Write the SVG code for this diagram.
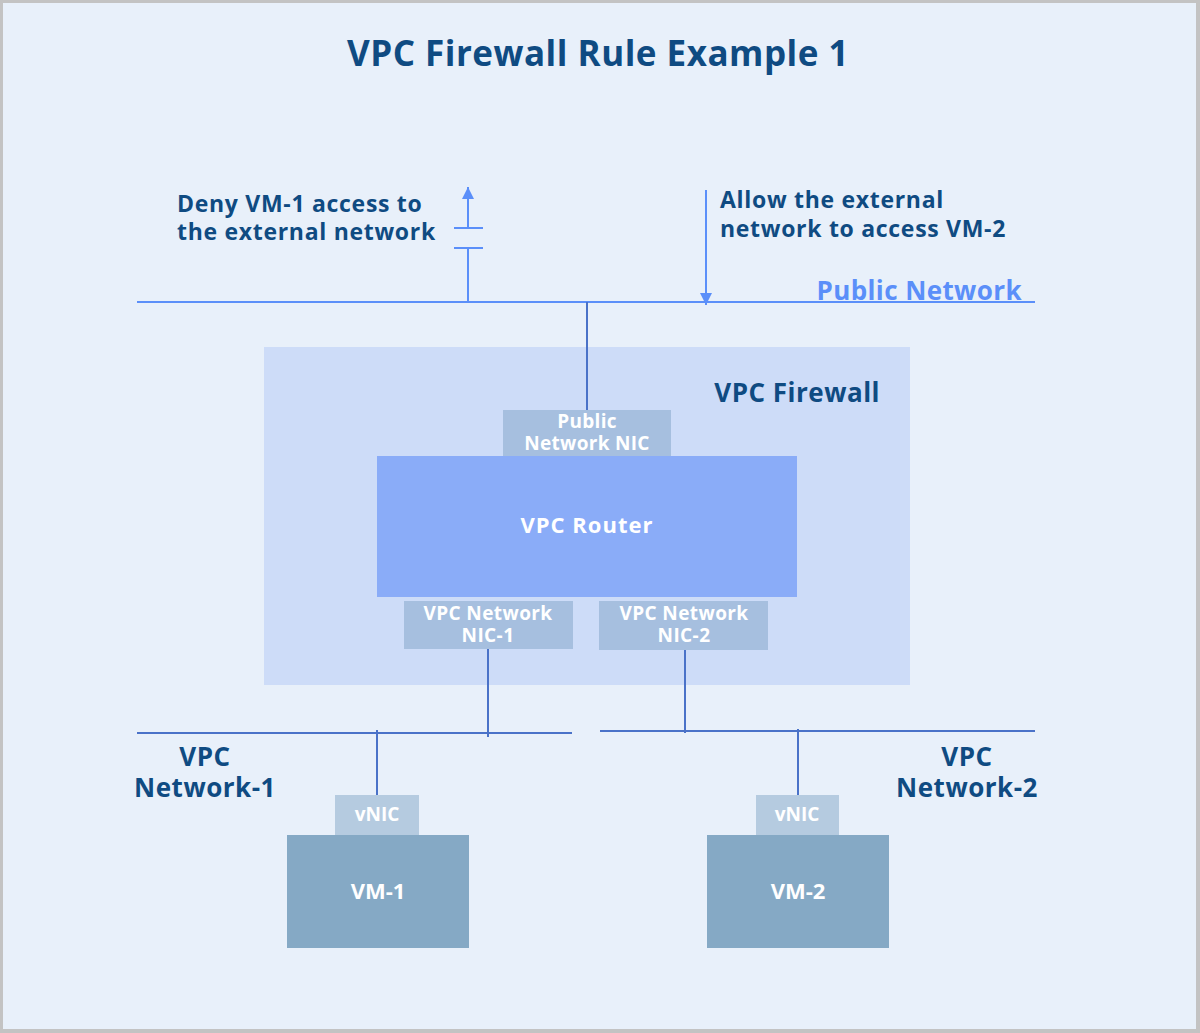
<svg xmlns="http://www.w3.org/2000/svg" width="1200" height="1033" viewBox="0 0 1200 1033">
<defs>
<style>
.t{font-family:"Open Sans","Noto Sans","Liberation Sans",sans-serif;font-weight:700}
.dk{fill:#0f4b82}
.wh{fill:#ffffff}
.pl{stroke:#5b8ff9;stroke-width:2;fill:none}
.vl{stroke:#4a72c8;stroke-width:2;fill:none}
</style>
<marker id="ah" markerWidth="12" markerHeight="12" refX="10" refY="5" orient="auto" markerUnits="userSpaceOnUse" viewBox="0 0 10 10">
<path d="M0,0 L10,5 L0,10 Z" fill="#5b8ff9"/>
</marker>
</defs>
<rect x="0" y="0" width="1200" height="1033" fill="#c3c3c3"/>
<rect x="3" y="3" width="1193" height="1026" fill="#e8f0fa"/>
<text class="t dk" x="598" y="66" font-size="35" letter-spacing="0.5" text-anchor="middle">VPC Firewall Rule Example 1</text>

<g id="firewall">
<rect x="264" y="347" width="646" height="338" fill="#cddcf8"/>
<text class="t dk" x="880" y="402" font-size="26" letter-spacing="0.5" text-anchor="end">VPC Firewall</text>
</g>

<g id="connectors">
<line class="pl" x1="137" y1="302" x2="1035" y2="302"/>
<line class="pl" x1="468" y1="302" x2="468" y2="249"/>
<line class="pl" x1="468" y1="228" x2="468" y2="187" marker-end="url(#ah)"/>
<line class="pl" x1="454" y1="228" x2="483" y2="228"/>
<line class="pl" x1="454" y1="248" x2="483" y2="248"/>
<line class="pl" x1="706" y1="190" x2="706" y2="305" marker-end="url(#ah)"/>
<line class="vl" x1="587" y1="302" x2="587" y2="414"/>
<line class="vl" x1="488" y1="648" x2="488" y2="737"/>
<line class="vl" x1="137" y1="733" x2="572" y2="733"/>
<line class="vl" x1="685" y1="646" x2="685" y2="733"/>
<line class="vl" x1="600" y1="731" x2="1035" y2="731"/>
<line class="vl" x1="377" y1="730" x2="377" y2="795"/>
<line class="vl" x1="798" y1="729" x2="798" y2="795"/>
</g>

<g id="deny-label">
<text class="t dk" font-size="23" letter-spacing="0.7"><tspan x="177" y="212">Deny VM-1 access to</tspan><tspan x="177" y="240">the external network</tspan></text>
</g>
<g id="allow-label">
<text class="t dk" font-size="23" letter-spacing="0.7"><tspan x="720" y="208">Allow the external</tspan><tspan x="720" y="237">network to access VM-2</tspan></text>
</g>
<g id="public-network">
<text class="t" x="1022" y="300" font-size="26" letter-spacing="0.4" text-anchor="end" fill="#5b8ff9">Public Network</text>
</g>

<g id="public-nic">
<rect x="503" y="410" width="168" height="46" fill="#a6bfdf"/>
<text class="t wh" font-size="19" letter-spacing="0.3" text-anchor="middle"><tspan x="587" y="428">Public</tspan><tspan x="587" y="450">Network NIC</tspan></text>
</g>
<g id="router">
<rect x="377" y="456" width="420" height="141" fill="#8aacf8"/>
<text class="t wh" x="587" y="533" font-size="22" letter-spacing="1" text-anchor="middle">VPC Router</text>
</g>
<g id="nic1">
<rect x="404" y="601" width="169" height="48" fill="#a6bfdf"/>
<text class="t wh" font-size="19" letter-spacing="0.4" text-anchor="middle"><tspan x="488" y="620">VPC Network</tspan><tspan x="488" y="642">NIC-1</tspan></text>
</g>
<g id="nic2">
<rect x="599" y="601" width="169" height="49" fill="#a6bfdf"/>
<text class="t wh" font-size="19" letter-spacing="0.4" text-anchor="middle"><tspan x="684" y="620">VPC Network</tspan><tspan x="684" y="642">NIC-2</tspan></text>
</g>

<g id="net1">
<text class="t dk" font-size="26" letter-spacing="0.5" text-anchor="middle"><tspan x="205" y="766">VPC</tspan><tspan x="205" y="797">Network-1</tspan></text>
</g>
<g id="net2">
<text class="t dk" font-size="26" letter-spacing="0.5" text-anchor="middle"><tspan x="967" y="766">VPC</tspan><tspan x="967" y="797">Network-2</tspan></text>
</g>

<g id="vm1">
<rect x="335" y="795" width="84" height="40" fill="#b5cbe0"/>
<text class="t wh" x="377" y="821" font-size="19" text-anchor="middle">vNIC</text>
<rect x="287" y="835" width="182" height="113" fill="#85a9c5"/>
<text class="t wh" x="378" y="899" font-size="22" text-anchor="middle">VM-1</text>
</g>
<g id="vm2">
<rect x="756" y="795" width="83" height="40" fill="#b5cbe0"/>
<text class="t wh" x="797" y="821" font-size="19" text-anchor="middle">vNIC</text>
<rect x="707" y="835" width="182" height="113" fill="#85a9c5"/>
<text class="t wh" x="798" y="899" font-size="22" text-anchor="middle">VM-2</text>
</g>
</svg>
